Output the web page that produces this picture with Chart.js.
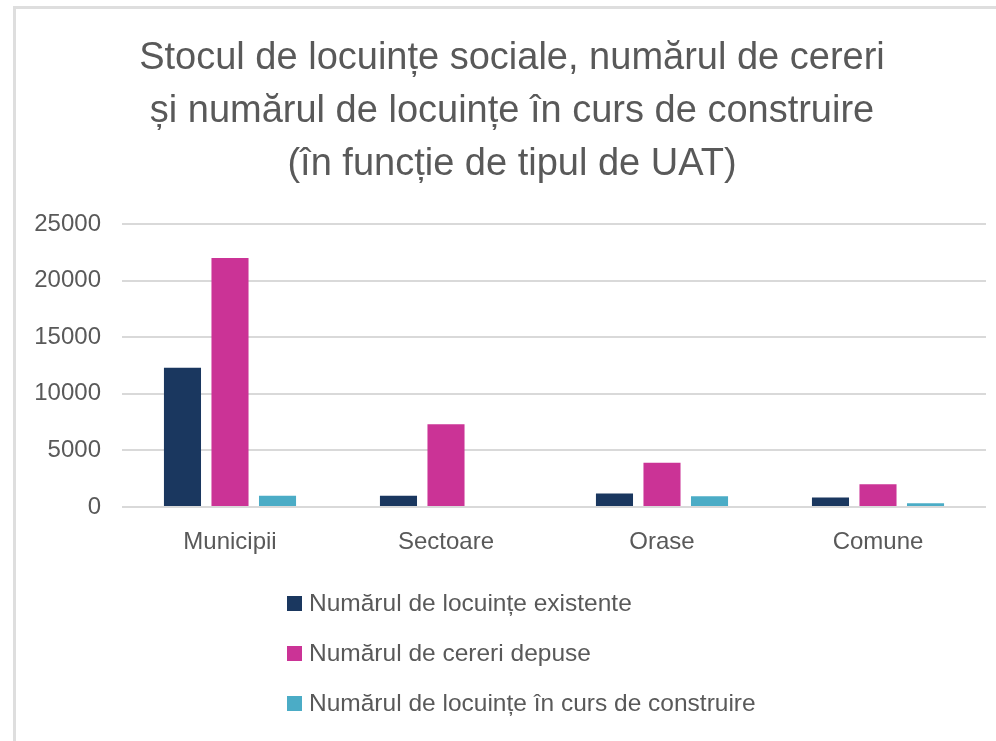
<!DOCTYPE html>
<html>
<head>
<meta charset="utf-8">
<script src="https://cdn.jsdelivr.net/npm/chart.js@4.4.1/dist/chart.umd.min.js"></script>
<style>
  html, body { margin: 0; padding: 0; background: #fff; }
  #wrap { position: relative; width: 996px; height: 741px; overflow: hidden; }
  #frame { position: absolute; left: 13px; top: 6px; right: 0; bottom: 0;
    border-top: 3px solid #dedede; border-left: 3px solid #dedede; }
  #chart { position: absolute; left: 0; top: 0; }
  #legend { position: absolute; left: 287px; top: 578px; font-family: "Liberation Sans", Arial, sans-serif;
    font-size: 24.5px; color: #595959; }
  #legend .item { height: 50px; display: flex; align-items: center; }
  #legend .box { width: 15px; height: 15px; margin-right: 7px; }
</style>
</head>
<body>
<div id="wrap">
  <div id="frame"></div>
  <canvas id="chart" width="996" height="741"></canvas>
  <div id="legend"></div>
</div>
<script>
// categories (tipul de UAT)
const categories = ["Municipii", "Sectoare", "Orase", "Comune"];

// series values
const locuinteExistente = [12300, 1000, 1200, 830];
const cereriDepuse = [22000, 7300, 3900, 2000];
const inConstructie = [1000, 0, 950, 330];

const seriesNames = [
  "Numărul de locuințe existente",
  "Numărul de cereri depuse",
  "Numărul de locuințe în curs de construire"
];
const seriesColors = ["#1a375f", "#cb3396", "#4bacc6"];

const yTicks = [0, 5000, 10000, 15000, 20000, 25000];

const titleLines = [
  "Stocul de locuințe sociale, numărul de cereri",
  "și numărul de locuințe în curs de construire",
  "(în funcție de tipul de UAT)"
];

const font = "'Liberation Sans', Arial, sans-serif";
const grey = "#595959";

// the title in the original sits a little right of the canvas centre
const shiftTitle = {
  id: 'shiftTitle',
  afterLayout(chart) {
    if (chart.titleBlock) chart.titleBlock.left = 38;
  }
};

const chart = new Chart(document.getElementById("chart"), {
  type: 'bar',
  data: {
    labels: categories,
    datasets: [
      { label: seriesNames[0], data: locuinteExistente, backgroundColor: seriesColors[0] },
      { label: seriesNames[1], data: cereriDepuse, backgroundColor: seriesColors[1] },
      { label: seriesNames[2], data: inConstructie, backgroundColor: seriesColors[2] }
    ]
  },
  plugins: [shiftTitle],
  options: {
    responsive: false,
    animation: false,
    datasets: {
      bar: { categoryPercentage: 0.66, barPercentage: 0.78 }
    },
    layout: { padding: { left: 0, right: 10, top: 0, bottom: 184 } },
    plugins: {
      legend: { display: false },
      tooltip: { enabled: false },
      title: {
        display: true,
        text: titleLines,
        color: grey,
        font: { family: font, size: 38, weight: 'normal', lineHeight: 53 / 38 },
        padding: { top: 32, bottom: 33 }
      }
    },
    scales: {
      x: {
        grid: { display: false },
        border: { display: false },
        ticks: { color: grey, font: { family: font, size: 24 }, padding: 13 },
        afterFit: function (s) { s.height = 50; }
      },
      y: {
        min: yTicks[0],
        max: yTicks[yTicks.length - 1],
        afterBuildTicks: function (s) { s.ticks = yTicks.map(v => ({ value: v })); },
        grid: { color: "#d9d9d9", lineWidth: 2, drawTicks: false },
        border: { display: false },
        ticks: {
          color: grey, font: { family: font, size: 24 }, padding: 21,
          callback: function (v) { return String(v); }
        },
        afterFit: function (s) { s.width = 122; }
      }
    }
  }
});

// vertical legend, left aligned as in the original
const legendEl = document.getElementById("legend");
chart.data.datasets.forEach(function (ds) {
  const row = document.createElement("div");
  row.className = "item";
  const box = document.createElement("span");
  box.className = "box";
  box.style.background = ds.backgroundColor;
  const txt = document.createElement("span");
  txt.textContent = ds.label;
  row.appendChild(box);
  row.appendChild(txt);
  legendEl.appendChild(row);
});
</script>
</body>
</html>
